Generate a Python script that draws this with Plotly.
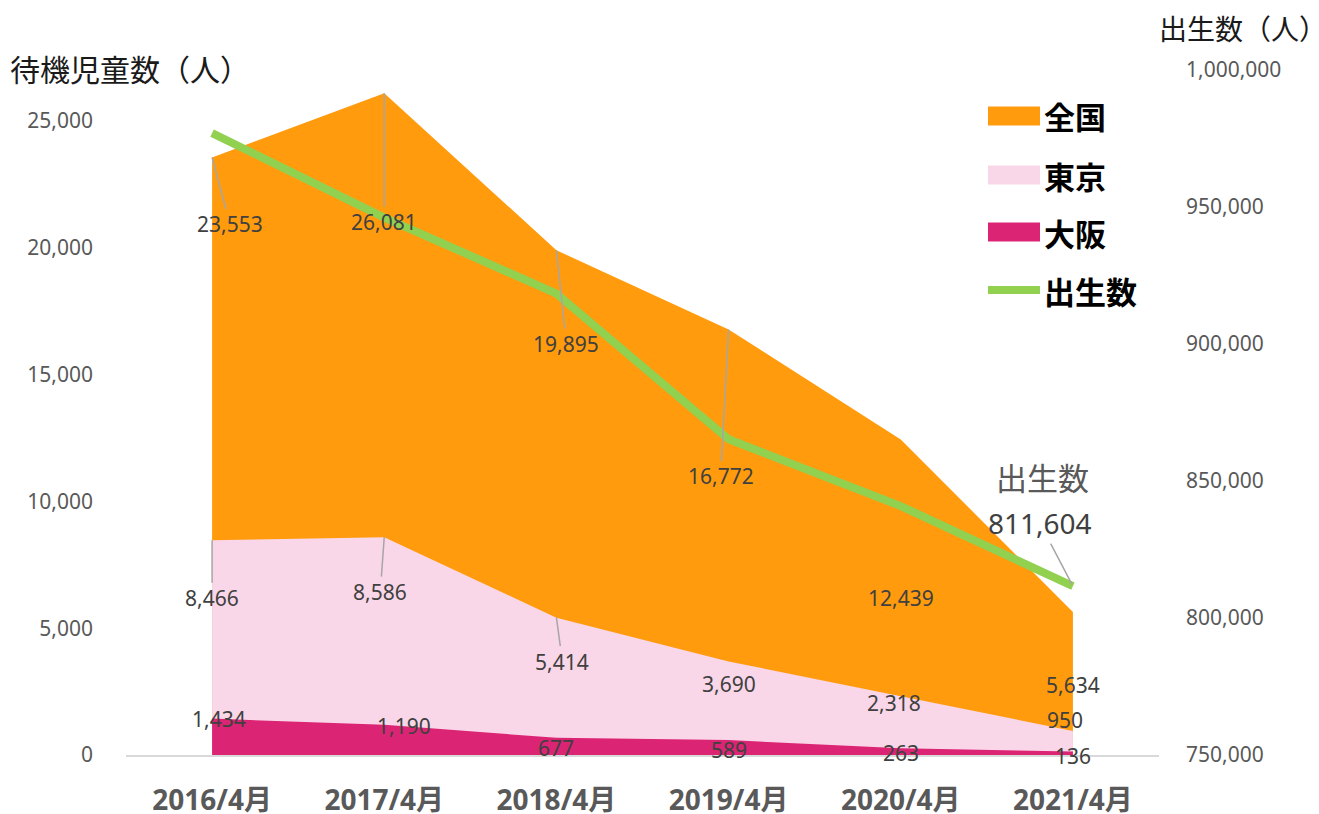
import plotly.graph_objects as go

categories = ["2016/4月", "2017/4月", "2018/4月", "2019/4月", "2020/4月", "2021/4月"]
zenkoku = [23553, 26081, 19895, 16772, 12439, 5634]
tokyo = [8466, 8586, 5414, 3690, 2318, 950]
osaka = [1434, 1190, 677, 589, 263, 136]
births = [976978, 946146, 918400, 865239, 840835, 811604]

C_ZEN = "#FF9B0C"
C_TOK = "#F9D7E8"
C_OSA = "#DC2474"
C_BIR = "#92D050"
LBL = "#404040"
TICK = "#595959"
LEAD = "#A6A6A6"

# label offsets (pixels: dx, dy-down, leader line?)
off_zen = [(18, 67, True), (0, 129, True), (10, 94, True), (-8, 147, True), (0, 159, False), (0, 73, False)]
off_tok = [(0, 58, True), (-4, 55, True), (6, 44, True), (0, 23, False), (-7, 7, False), (-8, -11, False)]
off_osa = [(7, 0, False), (20, 1, False), (0, 10, False), (0, 10, False), (0, 5, False), (0, 4, False)]

NUMFONT = "Noto Sans, Noto Sans CJK JP, sans-serif"
JPFONT = "Noto Sans CJK JP, Noto Sans, sans-serif"

fig = go.Figure()
for name, vals, col in [("全国", zenkoku, C_ZEN), ("東京", tokyo, C_TOK), ("大阪", osaka, C_OSA)]:
    fig.add_trace(go.Scatter(x=categories, y=vals, name=name, mode="lines",
                             line=dict(width=0, color=col), fill="tozeroy",
                             fillcolor=col, showlegend=False, hoverinfo="skip"))
fig.add_trace(go.Scatter(x=categories, y=births, name="出生数", mode="lines",
                         line=dict(width=8, color=C_BIR), yaxis="y2", showlegend=False))

annotations = []
for vals, offs in [(zenkoku, off_zen), (tokyo, off_tok), (osaka, off_osa)]:
    for cat, v, (dx, dy, lead) in zip(categories, vals, offs):
        a = dict(x=cat, y=v, xref="x", yref="y", text=f"{v:,}",
                 font=dict(family=NUMFONT, size=21, color=LBL))
        if lead:
            a.update(showarrow=True, ax=dx, ay=dy, arrowhead=0, arrowwidth=1.5,
                     arrowcolor=LEAD, standoff=0)
        else:
            a.update(showarrow=False, xshift=dx, yshift=-dy)
        annotations.append(a)

# births last-point callout
annotations.append(dict(x=categories[-1], y=births[-1], xref="x", yref="y2",
                        text=f"{births[-1]:,}", showarrow=True, ax=-33, ay=-63,
                        arrowhead=0, arrowwidth=1.5, arrowcolor=LEAD, standoff=2,
                        font=dict(family=NUMFONT, size=28, color=LBL)))
annotations.append(dict(x=categories[-1], y=births[-1], xref="x", yref="y2",
                        text="出生数", showarrow=False, xshift=-30, yshift=110,
                        font=dict(family=JPFONT, size=31, color=TICK)))

# plot area in pixels
L, R, T, B = 126, 1159, 70, 755
def px(x):
    return (x - L) / (R - L)
def py(y):
    return (B - y) / (B - T)

# axis titles
annotations.append(dict(x=px(8), y=py(68), xref="paper", yref="paper", xanchor="left",
                        yanchor="middle", text="待機児童数（人）", showarrow=False,
                        font=dict(family=JPFONT, size=30, color="#1a1a1a")))
annotations.append(dict(x=px(1157), y=py(28), xref="paper", yref="paper", xanchor="left",
                        yanchor="middle", text="出生数（人）", showarrow=False,
                        font=dict(family=JPFONT, size=28, color="#1a1a1a")))

# custom legend
shapes = []
legend_items = [("全国", C_ZEN, 116, "rect"), ("東京", C_TOK, 175, "rect"),
                ("大阪", C_OSA, 232, "rect"), ("出生数", C_BIR, 290, "line")]
for name, col, yc, kind in legend_items:
    if kind == "rect":
        shapes.append(dict(type="rect", xref="paper", yref="paper",
                           x0=px(988), x1=px(1040), y0=py(yc - 9.5), y1=py(yc + 9.5),
                           fillcolor=col, line=dict(width=0)))
    else:
        shapes.append(dict(type="line", xref="paper", yref="paper",
                           x0=px(988), x1=px(1040), y0=py(yc), y1=py(yc),
                           line=dict(color=col, width=8)))
    annotations.append(dict(x=px(1042), y=py(yc), xref="paper", yref="paper",
                            xanchor="left", yanchor="middle", text=f"<b>{name}</b>",
                            showarrow=False,
                            font=dict(family=JPFONT, size=31, color="#000000")))

fig.update_layout(
    width=1319, height=814,
    margin=dict(l=L, r=1319 - R, t=T, b=814 - B, autoexpand=False),
    paper_bgcolor="white", plot_bgcolor="white",
    showlegend=False,
    xaxis=dict(type="category", categoryorder="array", categoryarray=categories,
               range=[-0.5, 5.5], showgrid=False, zeroline=False, automargin=False,
               showline=True, linecolor="#D9D9D9", linewidth=1.5, ticks="",
               tickfont=dict(family=NUMFONT, size=28, color=TICK),
               tickvals=categories, ticktext=[f"<b>{c}</b>" for c in categories],
               ticklabelstandoff=20),
    yaxis=dict(range=[0, 27000], dtick=5000, tickformat=",", showgrid=False,
               zeroline=False, showline=False, ticks="", automargin=False,
               tickfont=dict(family=NUMFONT, size=21, color=TICK),
               ticklabelstandoff=32),
    yaxis2=dict(range=[750000, 1000000], dtick=50000, tickformat=",", overlaying="y",
                side="right", showgrid=False, zeroline=False, showline=False, ticks="",
                automargin=False,
                tickfont=dict(family=NUMFONT, size=21, color=TICK),
                ticklabelstandoff=26),
    annotations=annotations,
    shapes=shapes,
)

fig.write_html("out.html", config={"displayModeBar": False},
               post_script="document.body.style.margin='0';document.body.style.overflow='hidden';")
